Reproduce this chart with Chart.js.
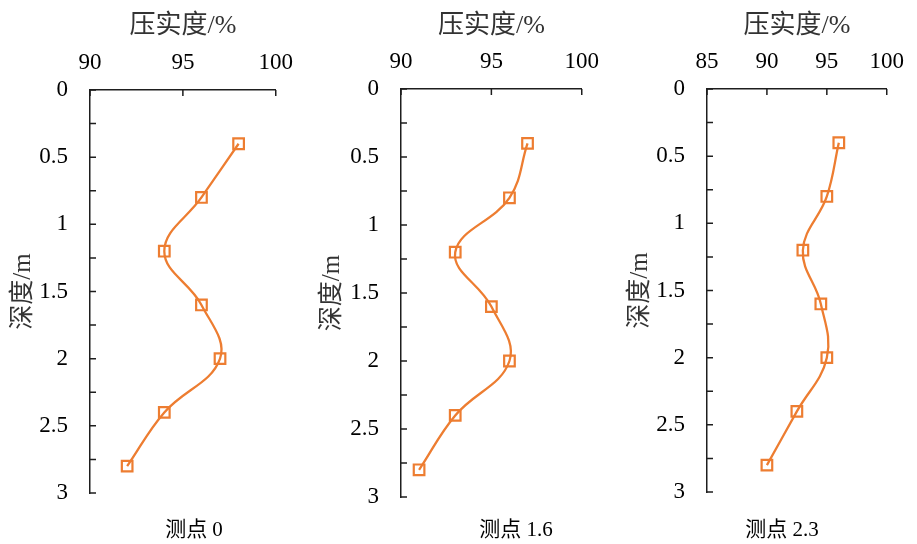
<!DOCTYPE html>
<html>
<head>
<meta charset="utf-8">
<script src="https://cdn.jsdelivr.net/npm/chart.js@4.4.1/dist/chart.umd.min.js"></script>
<style>
  html, body { margin: 0; padding: 0; background: #fff; }
  #wrap { position: relative; width: 917px; height: 544px; overflow: hidden; }
  #wrap canvas { position: absolute; top: 0; }
</style>
</head>
<body>
<div id="wrap">
  <canvas id="c0" width="306" height="544" style="left:0px"></canvas>
  <canvas id="c1" width="306" height="544" style="left:306px"></canvas>
  <canvas id="c2" width="305" height="544" style="left:612px"></canvas>
</div>
<script>
// Sampling depths (m) shared by all three test points
const depths = [0.4, 0.8, 1.2, 1.6, 2.0, 2.4, 2.8];

// Degree of compaction (%) at each depth
const compactionP0  = [98, 96, 94, 96, 97, 94, 92];
const compactionP16 = [97, 96, 93, 95, 96, 93, 91];
const compactionP23 = [96, 95, 93, 94.5, 95, 92.5, 90];

// Panel captions and axis ranges
const captions = ['测点 0', '测点 1.6', '测点 2.3'];
const xMins = [90, 90, 85];
const xMax = 100;
const xStep = 5;
const depthMax = 3;
const depthStep = 0.25;
const xTitle = '压实度/%';
const yTitle = '深度/m';

const ORANGE = '#ED7D31';
const AXIS = '#1e1e1e';
const SERIF = "'Liberation Serif', 'Noto Sans CJK SC', serif";

// Per-panel layout (pixels within each canvas)
const layouts = [
  { left: 90, top: 90, padRight: 29, padBottom: 51, yTitleX: 23, captionX: 194 },
  { left: 95, top: 89, padRight: 27, padBottom: 47, yTitleX: 26, captionX: 210 },
  { left: 95, top: 89, padRight: 24, padBottom: 52, yTitleX: 28, captionX: 170 }
];

// Short tick marks drawn inward from the axis lines, plus the panel caption
const innerTicks = {
  id: 'innerTicks',
  afterDraw(chart, args, opts) {
    const { ctx, chartArea: a, scales } = chart;
    const xs = scales.x, ys = scales.y;
    ctx.save();
    ctx.strokeStyle = AXIS;
    ctx.lineWidth = 1.5;
    ctx.beginPath();
    ys.ticks.forEach(t => {
      const py = ys.getPixelForValue(t.value);
      ctx.moveTo(a.left, py);
      ctx.lineTo(a.left + 6, py);
    });
    xs.ticks.forEach(t => {
      const px = xs.getPixelForValue(t.value);
      ctx.moveTo(px, a.top);
      ctx.lineTo(px, a.top + 6);
    });
    ctx.stroke();
    ctx.fillStyle = '#000';
    ctx.font = "21px " + SERIF;
    ctx.textAlign = 'center';
    ctx.textBaseline = 'middle';
    ctx.fillText(opts.caption, opts.captionX, 530);
    ctx.restore();
  }
};

function makePanel(canvasId, values, idx) {
  const L = layouts[idx];
  const points = depths.map((d, i) => ({ x: values[i], y: d }));
  return new Chart(document.getElementById(canvasId), {
    type: 'scatter',
    data: {
      datasets: [{
        data: points,
        showLine: true,
        borderColor: ORANGE,
        borderWidth: 2.3,
        tension: 0.4,
        pointStyle: 'rect',
        pointRadius: 7.5,
        pointBorderWidth: 2.2,
        pointBorderColor: ORANGE,
        pointBackgroundColor: 'rgba(255,255,255,0)'
      }]
    },
    options: {
      responsive: false,
      devicePixelRatio: 1,
      animation: false,
      events: [],
      layout: { padding: { left: 0, top: 0, right: L.padRight, bottom: L.padBottom } },
      plugins: {
        legend: { display: false },
        tooltip: { enabled: false },
        innerTicks: { caption: captions[idx], captionX: L.captionX }
      },
      scales: {
        x: {
          type: 'linear',
          position: 'top',
          min: xMins[idx],
          max: xMax,
          afterFit(scale) { scale.height = L.top; },
          ticks: {
            stepSize: xStep,
            autoSkip: false,
            maxRotation: 0,
            padding: 13,
            color: '#000',
            font: { family: SERIF, size: 23 }
          },
          grid: { display: false, drawTicks: false },
          border: { display: true, color: AXIS, width: 1.5 },
          title: {
            display: true,
            text: xTitle,
            color: '#333',
            font: { family: SERIF, size: 26, lineHeight: 1 },
            padding: { top: 13, bottom: 0 }
          }
        },
        y: {
          type: 'linear',
          position: 'left',
          reverse: true,
          min: 0,
          max: depthMax,
          afterFit(scale) { scale.width = L.left; },
          ticks: {
            stepSize: depthStep,
            autoSkip: false,
            padding: 22,
            color: '#000',
            font: { family: SERIF, size: 23 },
            callback: v => (Math.abs(v * 2 - Math.round(v * 2)) < 1e-9 ? String(v) : '')
          },
          grid: { display: false, drawTicks: false },
          border: { display: true, color: AXIS, width: 1.5 },
          title: {
            display: true,
            text: yTitle,
            color: '#333',
            font: { family: SERIF, size: 25, lineHeight: 1 },
            padding: { top: L.yTitleX - 12.5, bottom: 0 }
          }
        }
      }
    },
    plugins: [innerTicks]
  });
}

makePanel('c0', compactionP0, 0);
makePanel('c1', compactionP16, 1);
makePanel('c2', compactionP23, 2);
</script>
</body>
</html>
